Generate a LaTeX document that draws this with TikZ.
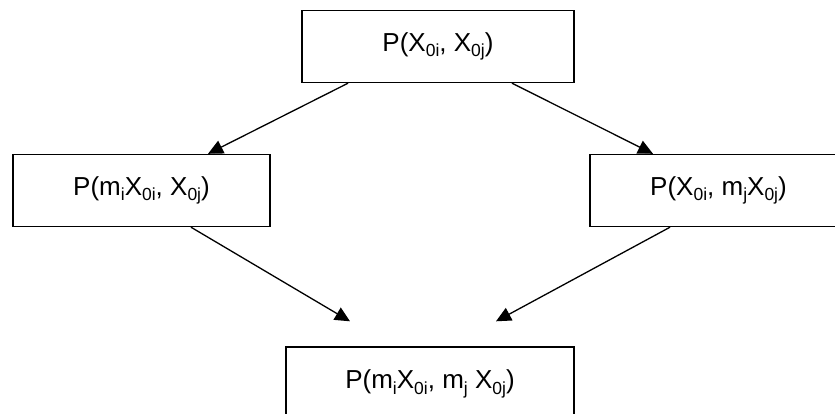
\documentclass[tikz,border=0pt]{standalone}
\usepackage{fontspec}
\setmainfont{Liberation Sans}
\usetikzlibrary{arrows.meta}
\newcommand{\lowsub}[1]{\raisebox{-0.22em}{\fontsize{17.5}{17.5}\selectfont #1}}
\tikzset{
  box/.style={draw, line width=1.4pt, minimum height=72pt, inner sep=0pt,
    font=\fontsize{26}{30}\selectfont},
  conn/.style={line width=1.3pt, -{Triangle[length=15pt,width=14pt]}}
}
\begin{document}
\begin{tikzpicture}[x=1pt,y=-1pt]
\useasboundingbox (0,0) rectangle (835,413);
\clip (0,0) rectangle (835,413);
\fill[white] (0,0) rectangle (835,413);
\node[box, minimum width=272pt] (top) at (438,46.5) {P(X\lowsub{0i}, X\lowsub{0j})};
\node[box, minimum width=257pt] (left) at (141.5,190.5) {P(m\lowsub{i}X\lowsub{0i}, X\lowsub{0j})};
\node[box, minimum width=257pt] (right) at (718.5,190.5) {P(X\lowsub{0i}, m\lowsub{j}X\lowsub{0j})};
\node[box, minimum width=288pt, minimum height=74pt] (bottom) at (430,384) {P(m\lowsub{i}X\lowsub{0i}, m\lowsub{j} X\lowsub{0j})};
\coordinate (tipl) at ([xshift=-80pt,yshift=25pt]bottom.north);
\coordinate (tipr) at ([xshift=66pt,yshift=25pt]bottom.north);
\draw[conn] ([xshift=-90pt]top.south) -- ([xshift=66.5pt]left.north);
\draw[conn] ([xshift=74pt]top.south) -- ([xshift=-65.5pt]right.north);
\draw[conn] ([xshift=49.5pt]left.south) -- (tipl);
\draw[conn] ([xshift=-48.5pt]right.south) -- (tipr);
\end{tikzpicture}
\end{document}
